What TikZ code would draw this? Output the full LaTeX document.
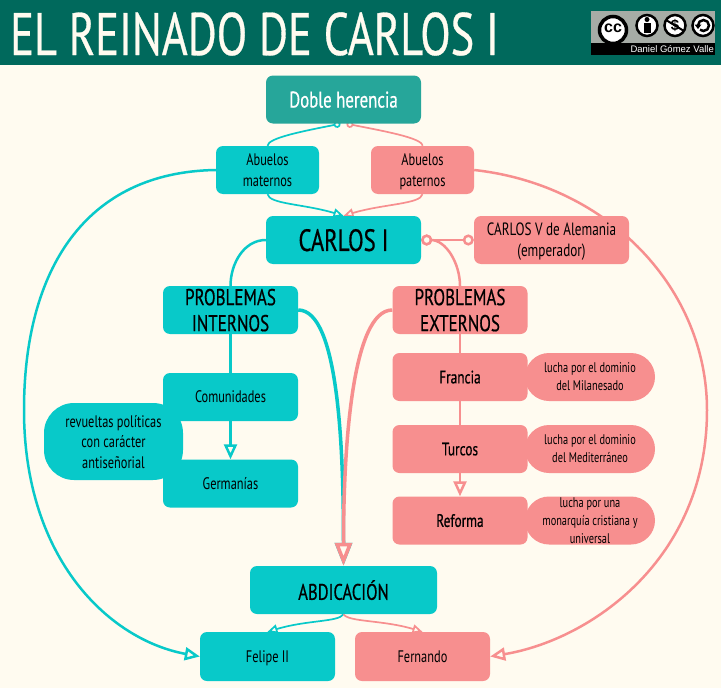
\documentclass[tikz,border=0pt]{standalone}
\usepackage{fontspec}
\usetikzlibrary{arrows.meta}
\setmainfont[FakeStretch=0.74]{PT Sans}
\newfontfamily\heavyfont[FakeStretch=0.74,FakeBold=0.5]{PT Sans}
\newfontfamily\logofont{Liberation Sans}
\definecolor{paper}{HTML}{FFFBF0}
\definecolor{header}{HTML}{00695C}
\definecolor{tealbox}{HTML}{26A69A}
\definecolor{cyanbox}{HTML}{08C9C9}
\definecolor{pinkbox}{HTML}{F78F8F}
\definecolor{badge}{HTML}{A6ACA6}
\pgfdeclarelayer{lines}
\pgfsetlayers{lines,main}
\tikzset{
  box/.style={rounded corners=7pt,inner sep=0pt,align=center,text=black,text depth=0pt,font=\fontsize{16.7}{20.5}\selectfont},
  cyan/.style={box,fill=cyanbox},
  pink/.style={box,fill=pinkbox},
  small/.style={minimum width=103pt,minimum height=48pt},
  wide/.style={minimum width=155pt,minimum height=48pt},
  mid/.style={minimum width=135pt,minimum height=48pt},
  note/.style={pink,rounded corners=24pt,minimum width=130pt,minimum height=48pt,font=\fontsize{14}{18}\selectfont},
  big/.style={font=\heavyfont\fontsize{23}{26}\selectfont},
  named/.style={font=\heavyfont\fontsize{18}{20}\selectfont},
  cyanline/.style={draw=cyanbox,line width=2.5pt},
  pinkline/.style={draw=pinkbox,line width=2.5pt},
  thin line/.style={line width=1.7pt},
  fat line/.style={line width=3.5pt},
  head/.style={-{Triangle[open,fill=paper,length=15pt,width=13pt]}},
  smallhead/.style={-{Triangle[open,fill=paper,length=10pt,width=9pt]}},
  bighead/.style={-{Triangle[open,fill=paper,length=23pt,width=17pt]}},
  ring/.style={{Circle[open,fill=paper,length=7pt]}-},
  bigring/.style={{Circle[open,fill=paper,length=11pt]}-},
  tworings/.style={{Circle[open,fill=paper,length=11pt]}-{Circle[open,fill=paper,length=11pt]}},
  badgering/.style={fill=white,draw=black,line width=2.5pt},
}
\begin{document}
\begin{tikzpicture}[x=1pt,y=-1pt]
\useasboundingbox (0,0) rectangle (721,688);
\begin{pgfonlayer}{lines}
\fill[paper] (0,0) rectangle (721,688);
\end{pgfonlayer}
\fill[header] (0,0) rectangle (721,65);
\node[anchor=west,inner sep=0pt,text=paper,font=\heavyfont\fontsize{60}{60}\selectfont] (title) at (10,34) {EL REINADO DE CARLOS I};

% licence badge
\fill[badge] (591,11) rectangle (715,43);
\fill[black] (591,42.5) rectangle (715,55);
\node[anchor=east,inner sep=0pt,text=white,font=\logofont\fontsize{9.5}{9.5}\selectfont] (credit) at (714,49) {Daniel Gómez Valle};
\filldraw[badgering,line width=3.5pt] (613,30) circle (13.5pt);
\node[inner sep=0pt,font=\logofont\bfseries\fontsize{16}{16}\selectfont] (cc) at (613,28.5) {cc};
\filldraw[badgering] (647,25.5) circle (10.5pt);
\fill (647,19.5) circle (2.5pt);
\fill (643.5,23) rectangle (650.5,32.5);
\filldraw[badgering] (675,25.5) circle (10.5pt);
\node[inner sep=0pt,font=\logofont\bfseries\fontsize{15}{15}\selectfont] (nc) at (675,25.5) {\$};
\draw[line width=2pt] (666,20) -- (684,31);
\filldraw[badgering] (703,25.5) circle (10.5pt);
\draw[line width=2.5pt] (698,25.5) arc (180:-130:5.5pt);
\fill (694.5,24.5) -- (701.5,24.5) -- (698,29) -- cycle;

% boxes
\node[box,wide,fill=tealbox,text=white,font=\heavyfont\fontsize{22.7}{26}\selectfont] (doble) at (343.5,99.5) {Doble herencia};
\node[cyan,small] (maternos) at (267.5,170) {Abuelos\\maternos};
\node[pink,small] (paternos) at (422.5,170) {Abuelos\\paternos};
\node[cyan,wide,font=\heavyfont\fontsize{30.8}{34}\selectfont] (carlos) at (343.5,240) {CARLOS I};
\node[pink,wide,font=\fontsize{17.8}{21}\selectfont] (emperador) at (551.5,240) {CARLOS V de Alemania\\(emperador)};
\node[cyan,mid,big] (internos) at (230.5,310) {PROBLEMAS\\INTERNOS};
\node[pink,mid,big] (externos) at (460,310) {PROBLEMAS\\EXTERNOS};
\node[cyan,mid] (comunidades) at (230.5,397) {Comunidades};
\node[cyan,mid] (germanias) at (230.5,483.5) {Germanías};
\node[cyan,rounded corners=30pt,minimum width=139pt,minimum height=77pt] (revueltas) at (113.5,441.5) {revueltas políticas\\con carácter\\antiseñorial};
\node[note] (milan) at (590,377) {lucha por el dominio\\del Milanesado};
\node[note] (medit) at (590,449) {lucha por el dominio\\del Mediterráneo};
\node[note] (monarquia) at (590,520.5) {lucha por una\\monarquía cristiana y\\universal};
\node[pink,mid,named] (francia) at (460,377) {Francia};
\node[pink,mid,named] (turcos) at (460,449) {Turcos};
\node[pink,mid,named] (reforma) at (460,520.5) {Reforma};
\node[cyan,minimum width=187pt,minimum height=48pt,font=\heavyfont\fontsize{22.5}{25}\selectfont] (abdicacion) at (343.5,590) {ABDICACIÓN};
\node[cyan,mid,minimum height=49pt] (felipe) at (267.5,656.5) {Felipe II};
\node[pink,mid,minimum height=49pt] (fernando) at (422.5,656.5) {Fernando};

% connectors
\begin{pgfonlayer}{lines}
\draw[cyanline,thin line,ring] ([xshift=-3pt]doble.south) .. controls +(-35,7) and +(0,-8) .. (maternos.north);
\draw[pinkline,thin line,ring] ([xshift=3pt]doble.south) .. controls +(35,7) and +(0,-8) .. (paternos.north);
\draw[cyanline,thin line,smallhead] (maternos.south) .. controls +(2,10) and +(-40,-12) .. (carlos.north);
\draw[pinkline,thin line,smallhead] (paternos.south) .. controls +(-2,10) and +(40,-12) .. (carlos.north);
\draw[cyanline,head] (maternos.west) .. controls (85,172) and (24,270) .. (24,410) .. controls (24,560) and (110,640) .. (felipe.west);
\draw[pinkline,head] (paternos.east) .. controls (610,185) and (707,290) .. (707,410) .. controls (707,560) and (590,640) .. (fernando.east);
\draw[cyanline] (carlos.west) .. controls +(-22,0) and +(0,-22) .. (internos.north);
\draw[pinkline,bigring] (carlos.east) .. controls +(25,0) and +(0,-22) .. (externos.north);
\draw[pinkline,tworings] (carlos.east) -- (emperador.west);
\draw[cyanline] (internos) -- (comunidades);
\draw[cyanline,head] (comunidades) -- (germanias);
\draw[pinkline] (externos) -- (francia);
\draw[pinkline] (francia) -- (turcos);
\draw[pinkline,head] (turcos) -- (reforma);
\draw[cyanline,fat line,bighead] (internos.east) .. controls +(40,0) and +(0,-120) .. (abdicacion.north);
\draw[pinkline,fat line,bighead] (externos.west) .. controls +(-40,0) and +(0,-120) .. (abdicacion.north);
\draw[cyanline,thin line,smallhead] (abdicacion.south) .. controls +(-5,8) and +(40,-12) .. (felipe.north);
\draw[pinkline,thin line,smallhead] (abdicacion.south) .. controls +(5,8) and +(-40,-12) .. (fernando.north);
\end{pgfonlayer}
\end{tikzpicture}
\end{document}
